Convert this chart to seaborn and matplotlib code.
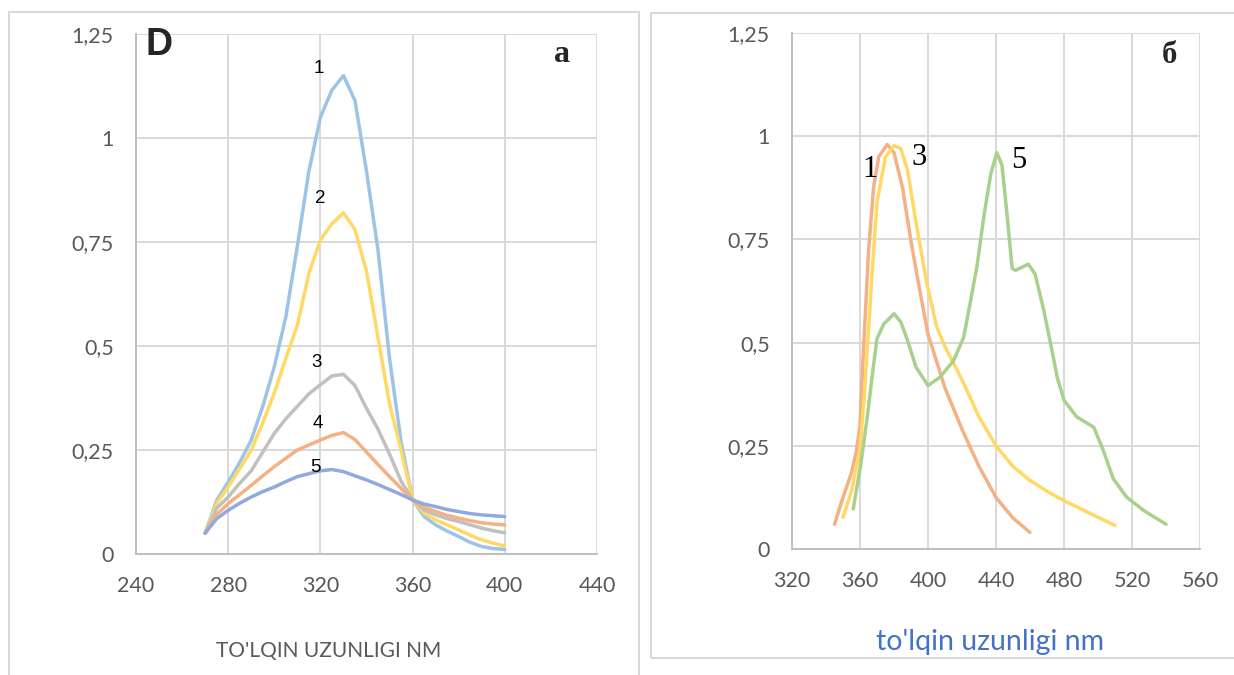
import matplotlib
matplotlib.use("Agg")
import matplotlib.pyplot as plt
import seaborn as sns
from matplotlib.patches import Rectangle

# ---------------- data ----------------
# panel a  (wavelength, nm)
wl_a = [270, 275, 280, 285, 290, 295, 300, 305, 310, 315, 320, 325, 330, 335,
        340, 345, 350, 355, 360, 365, 370, 375, 380, 385, 390, 395, 400]
a_curve1 = [0.05, 0.129, 0.173, 0.22, 0.274, 0.355, 0.45, 0.57, 0.74, 0.92, 1.05, 1.115, 1.15, 1.09,
            0.92, 0.73, 0.47, 0.27, 0.13, 0.09, 0.07, 0.055, 0.042, 0.028, 0.018, 0.013, 0.011]
a_curve2 = [0.05, 0.122, 0.161, 0.205, 0.25, 0.315, 0.387, 0.47, 0.55, 0.674, 0.755, 0.794, 0.82, 0.78,
            0.68, 0.52, 0.36, 0.25, 0.13, 0.098, 0.082, 0.07, 0.058, 0.045, 0.034, 0.026, 0.019]
a_curve3 = [0.05, 0.11, 0.137, 0.17, 0.2, 0.245, 0.29, 0.325, 0.355, 0.385, 0.407, 0.428, 0.432, 0.405,
            0.35, 0.3, 0.24, 0.175, 0.13, 0.106, 0.094, 0.085, 0.078, 0.07, 0.062, 0.056, 0.051]
a_curve4 = [0.05, 0.095, 0.121, 0.143, 0.165, 0.188, 0.21, 0.23, 0.25, 0.262, 0.274, 0.285, 0.292, 0.275,
            0.245, 0.215, 0.186, 0.158, 0.13, 0.112, 0.102, 0.093, 0.086, 0.08, 0.075, 0.072, 0.07]
a_curve5 = [0.05, 0.085, 0.105, 0.122, 0.137, 0.15, 0.161, 0.174, 0.186, 0.193, 0.2, 0.203, 0.198, 0.188,
            0.178, 0.167, 0.155, 0.143, 0.13, 0.12, 0.114, 0.107, 0.102, 0.097, 0.094, 0.092, 0.09]
a_labels = ["1", "2", "3", "4", "5"]

# panel б
wl_b1 = [345, 350, 355, 358, 360, 362, 365, 368, 371, 376, 380, 385, 390, 395, 400, 410, 420, 430, 440, 450, 460]
b_curve1 = [0.06, 0.125, 0.185, 0.24, 0.3, 0.48, 0.72, 0.876, 0.95, 0.98, 0.96, 0.876, 0.745, 0.63, 0.52,
            0.39, 0.29, 0.2, 0.125, 0.075, 0.04]
wl_b3 = [350, 355, 360, 362.5, 365, 367.5, 370, 375, 380, 384, 388, 393, 399, 405, 410, 420, 430, 440,
         450, 460, 470, 480, 490, 500, 510]
b_curve3 = [0.077, 0.14, 0.24, 0.37, 0.53, 0.69, 0.84, 0.95, 0.977, 0.97, 0.917, 0.79, 0.65, 0.54, 0.49,
            0.41, 0.32, 0.25, 0.2, 0.166, 0.14, 0.117, 0.097, 0.077, 0.057]
wl_b5 = [356, 360.5, 364.5, 367.5, 370, 374, 380, 384, 388, 393, 400, 407, 415, 421, 425, 429, 433, 437,
         440.5, 443.5, 446.5, 449.5, 451.5, 459, 463, 468, 472, 476, 480, 487.5, 497.5, 503, 509, 517, 527, 540]
b_curve5 = [0.097, 0.206, 0.327, 0.43, 0.51, 0.545, 0.57, 0.55, 0.505, 0.44, 0.396, 0.416, 0.456, 0.513,
            0.6, 0.69, 0.81, 0.91, 0.96, 0.93, 0.81, 0.68, 0.675, 0.69, 0.666, 0.58, 0.5, 0.416, 0.36,
            0.32, 0.295, 0.24, 0.17, 0.125, 0.093, 0.06]
b_labels = ["1", "3", "5"]

y_ticks = [0, 0.25, 0.5, 0.75, 1, 1.25]
y_ticklabels = ["0", "0,25", "0,5", "0,75", "1", "1,25"]
x_ticks_a = [240, 280, 320, 360, 400, 440]
x_ticks_b = [320, 360, 400, 440, 480, 520, 560]

# ---------------- style ----------------
sns.set_style("white")
plt.rcParams["font.family"] = ["Lato", "DejaVu Sans"]

W, H = 1234, 675
fig = plt.figure(figsize=(W / 100, H / 100), dpi=100)

def px_axes(x0, y0, x1, y1):
    return fig.add_axes([x0 / W, 1 - y1 / H, (x1 - x0) / W, (y1 - y0) / H])

# outer frames
fig.patches.append(Rectangle((9 / W, 1 - 690 / H), 630 / W, 678 / H, transform=fig.transFigure,
                             fill=False, edgecolor="#D9D9D9", lw=1.5))
fig.patches.append(Rectangle((651 / W, 1 - 658 / H), 600 / W, 645 / H, transform=fig.transFigure,
                             fill=False, edgecolor="#D9D9D9", lw=1.5))

grid_c = "#D9D9D9"
tick_c = "#595959"

def style_axes(ax, xticks, xlim):
    ax.set_xlim(*xlim)
    ax.set_ylim(0, 1.25)
    ax.set_xticks(xticks)
    ax.set_yticks(y_ticks)
    ax.set_yticklabels(y_ticklabels)
    ax.grid(True, color=grid_c, lw=1.4)
    ax.set_axisbelow(True)
    for s in ["top", "right"]:
        ax.spines[s].set_visible(False)
    for s in ["left", "bottom"]:
        ax.spines[s].set_color("#BFBFBF")
        ax.spines[s].set_linewidth(1.4)
    ax.tick_params(axis="both", length=0, labelsize=15.5, labelcolor=tick_c)
    ax.tick_params(axis="y", pad=16)
    ax.tick_params(axis="x", pad=16)
    ax.set_ylabel("")
    ax.set_xlabel("")

# ---------------- panel a ----------------
ax1 = px_axes(136, 34, 597, 554)
cols_a = ["#9DC3E6", "#FFD966", "#C0C0C0", "#F4B183", "#8FAADC"]
for ys, c in zip([a_curve1, a_curve2, a_curve3, a_curve4, a_curve5], cols_a):
    sns.lineplot(x=wl_a, y=ys, color=c, lw=2.5, ax=ax1, solid_capstyle="round", solid_joinstyle="round")
style_axes(ax1, x_ticks_a, (240, 440))
fig.text(329 / W, 1 - 657 / H, "TO'LQIN UZUNLIGI NM", fontsize=15, color=tick_c, ha="center", va="baseline")

lab_pos_a = [(319.4, 1.156), (319.8, 0.844), (318.3, 0.45), (319, 0.303), (317.7, 0.197)]
for t, (x, y) in zip(a_labels, lab_pos_a):
    ax1.text(x, y, t, fontsize=13.5, ha="center", va="baseline", family="Liberation Sans", color="black")
ax1.text(244.3, 1.2, "D", fontsize=27, fontweight="bold", family="Liberation Sans", ha="left", va="baseline")
ax1.text(424.8, 1.183, "a", fontsize=23, fontweight="bold", family="Liberation Serif", ha="center", va="baseline")

# ---------------- panel б ----------------
ax2 = px_axes(792, 33, 1200, 549)
for xs, ys, c in zip([wl_b1, wl_b3, wl_b5], [b_curve1, b_curve3, b_curve5],
                     ["#F4B183", "#FFD966", "#A9D18E"]):
    sns.lineplot(x=xs, y=ys, color=c, lw=2.5, ax=ax2, solid_capstyle="round", solid_joinstyle="round")
style_axes(ax2, x_ticks_b, (320, 560))
fig.text(990 / W, 1 - 650 / H, "to'lqin uzunligi nm", fontsize=20.5, color="#4472C4", ha="center", va="baseline")

lab_pos_b = [(365.9, 0.9), (394.7, 0.93), (453.5, 0.923)]
for t, (x, y) in zip(b_labels, lab_pos_b):
    ax2.text(x, y, t, fontsize=22, ha="center", va="baseline", family="Liberation Serif", color="black")
ax2.text(542, 1.177, "б", fontsize=22, fontweight="bold", family="Liberation Serif", ha="center", va="baseline")

fig.savefig("out.png", dpi=100)
